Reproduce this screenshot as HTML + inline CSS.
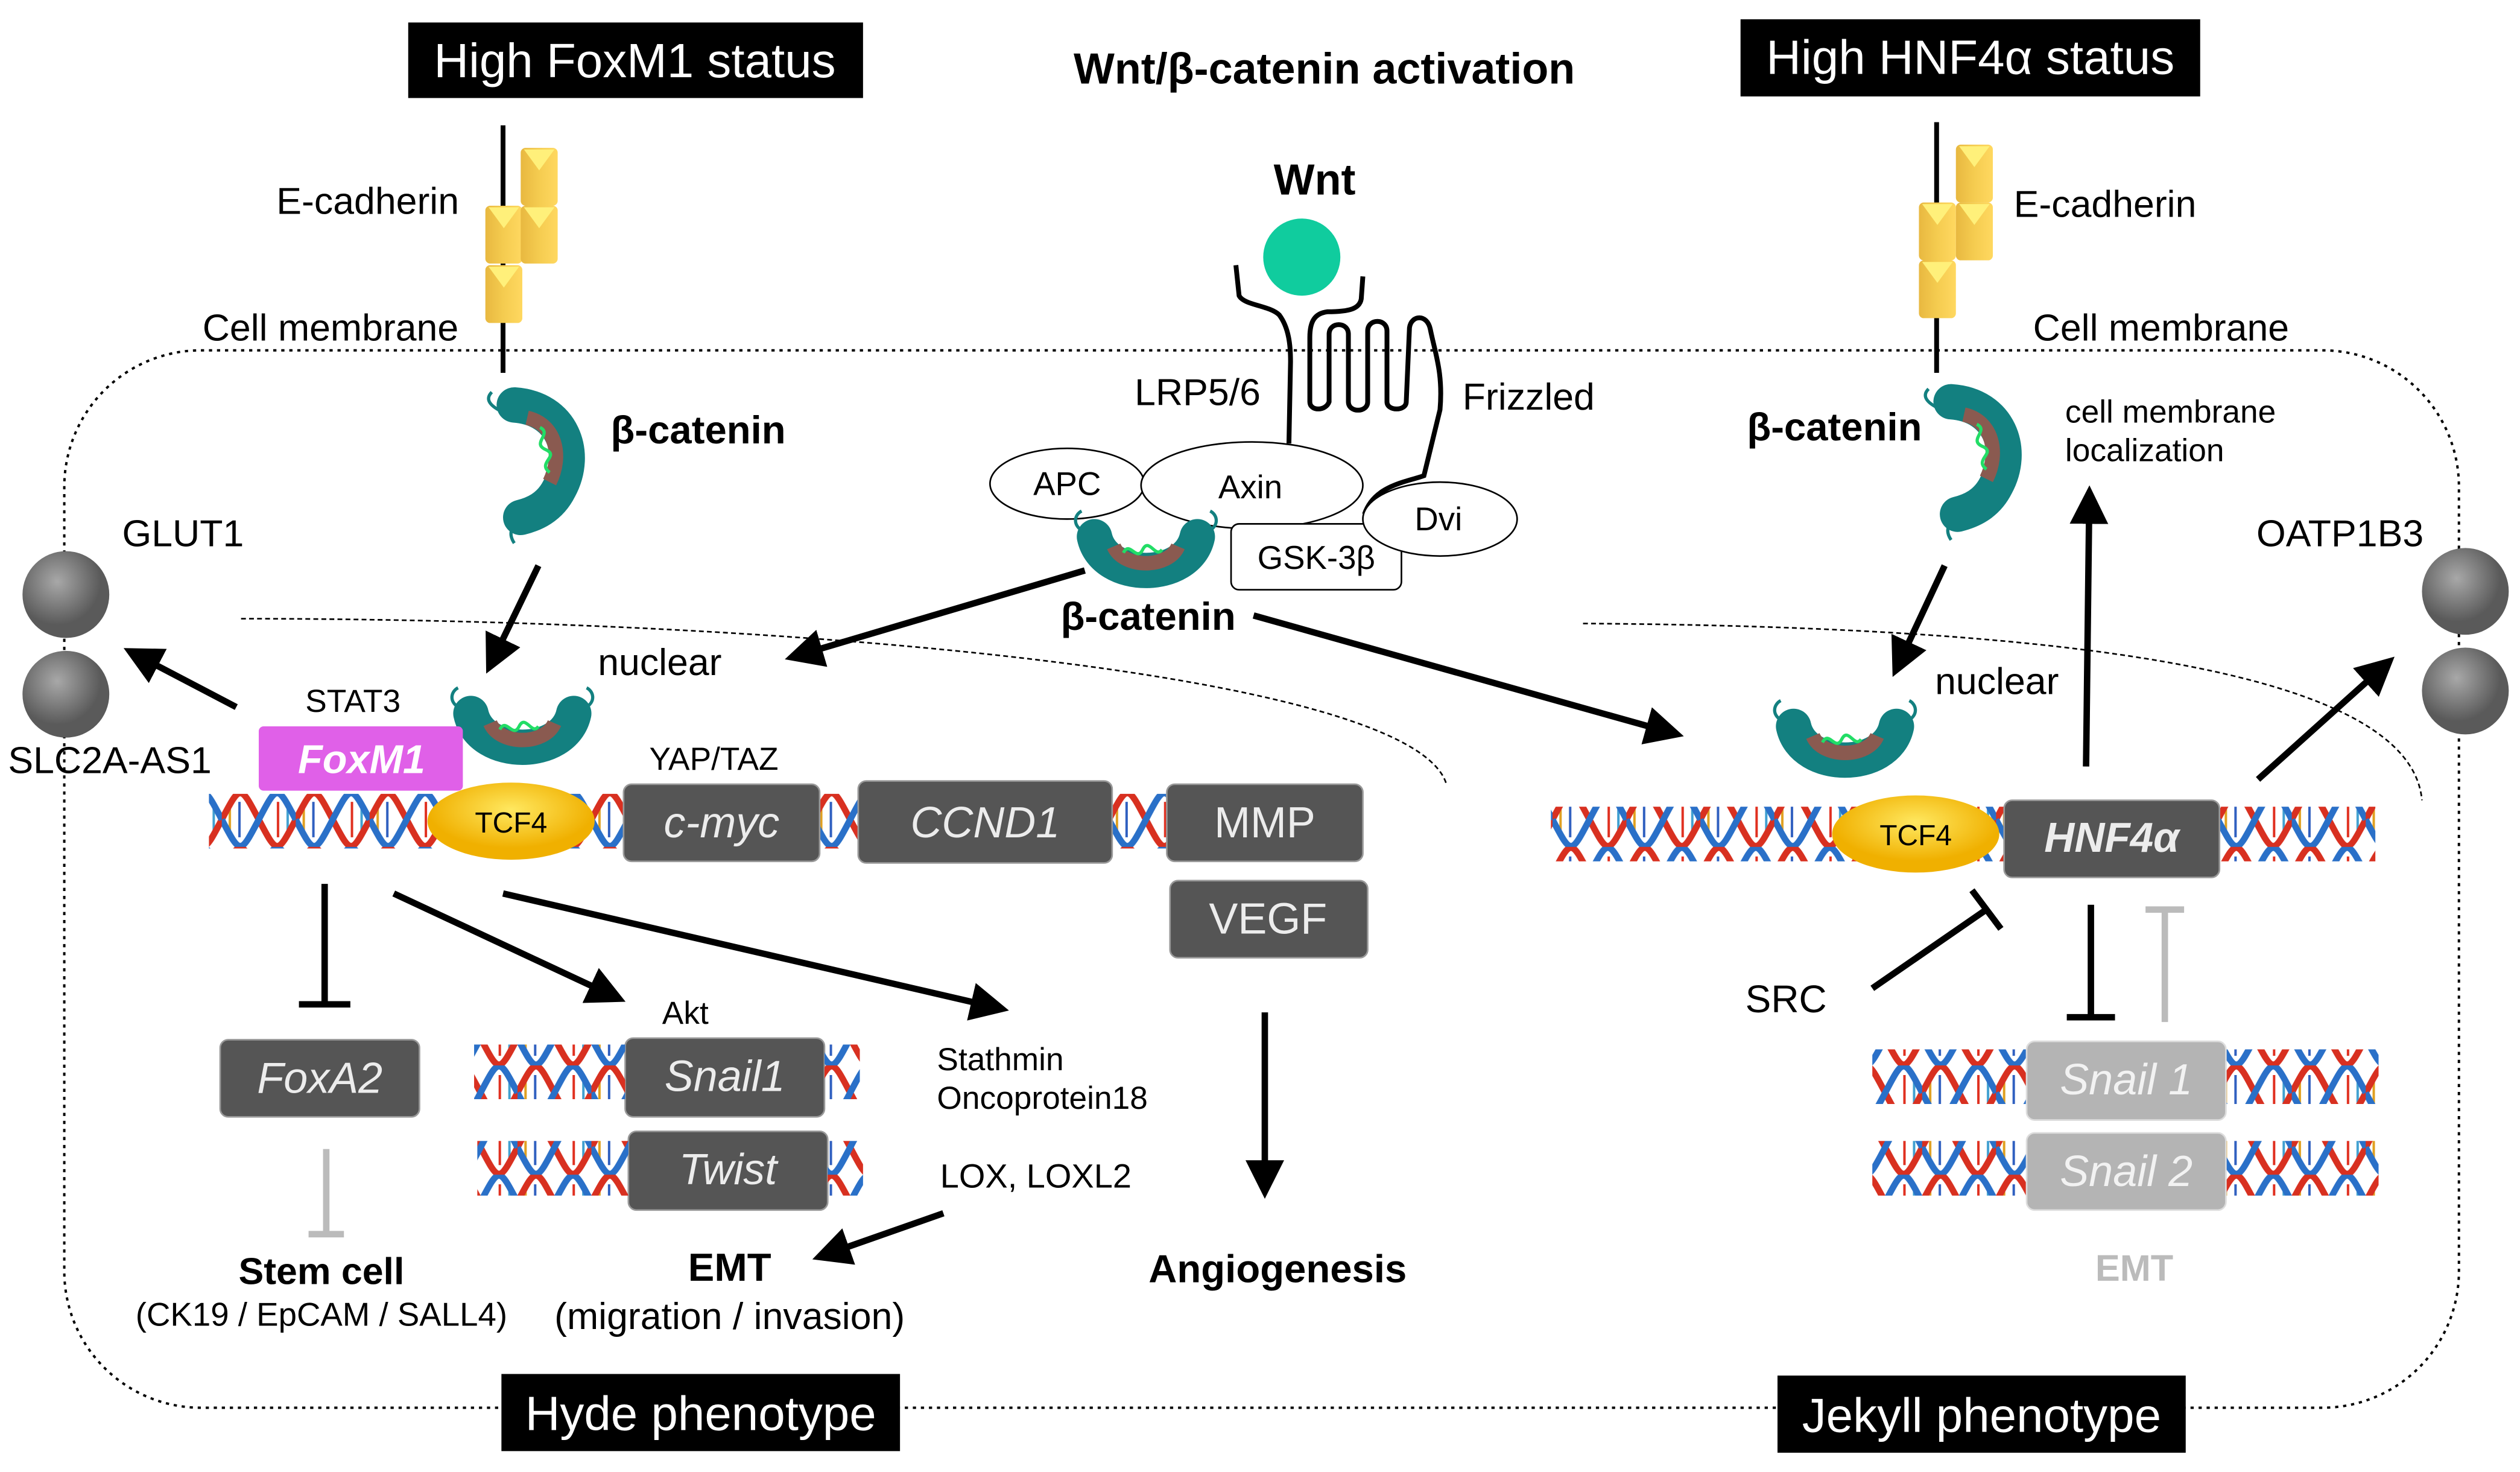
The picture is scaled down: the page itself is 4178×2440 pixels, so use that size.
<!DOCTYPE html>
<html><head><meta charset="utf-8"><style>
html,body{margin:0;padding:0;background:#fff;}
svg{display:block;}
text{font-family:"Liberation Sans",sans-serif;}
</style></head><body>
<svg width="4178" height="2440" viewBox="0 0 1568 916" preserveAspectRatio="none" xmlns="http://www.w3.org/2000/svg">
<defs>
<marker id="ah" markerWidth="6" markerHeight="6" refX="4" refY="3" orient="auto" markerUnits="strokeWidth">
<path d="M0,0 L6,3 L0,6 z" fill="#000"/></marker>
<pattern id="dna" width="46" height="34" patternUnits="userSpaceOnUse" y="-17">
<g stroke-width="1.5">
<line x1="5" y1="9" x2="5" y2="25" stroke="#e0a020"/><line x1="11" y1="6" x2="11" y2="28" stroke="#3060c0"/><line x1="35" y1="6" x2="35" y2="28" stroke="#e03020"/><line x1="41" y1="9" x2="41" y2="25" stroke="#40a0d0"/>
</g>
<path d="M0,17 C11.5,-5 11.5,-5 23,17 S34.5,39 46,17" fill="none" stroke="#d83020" stroke-width="4"/>
<path d="M0,17 C11.5,39 11.5,39 23,17 S34.5,-5 46,17" fill="none" stroke="#2a70c8" stroke-width="4"/>
</pattern>
<g id="bcat">
<path d="M-22,-30 C8,-28 18,0 6,22 C0,34 -10,38 -18,40" fill="none" stroke="#138080" stroke-width="22" stroke-linecap="round"/>
<path d="M-14,-22 C4,-18 8,2 0,18" fill="none" stroke="#8a5a50" stroke-width="9"/>
<path d="M-6,-16 c8,4 -6,10 4,14 c8,4 -6,8 2,14" fill="none" stroke="#22dd66" stroke-width="2"/>
<path d="M-30,-26 c-8,-4 -10,-8 -6,-12" fill="none" stroke="#138080" stroke-width="2"/>
<path d="M-18,40 c-6,6 -8,10 -4,16" fill="none" stroke="#138080" stroke-width="2"/>
</g>
<g id="bcath">
<path d="M-32,-6 C-26,22 26,22 32,-6" fill="none" stroke="#138080" stroke-width="22" stroke-linecap="round"/>
<path d="M-20,0 C-14,14 14,14 20,0" fill="none" stroke="#8a5a50" stroke-width="9"/>
<path d="M-14,4 c4,-8 8,6 12,-2 c4,-8 8,6 12,0" fill="none" stroke="#22dd66" stroke-width="2"/>
<path d="M-40,-10 c-6,-4 -4,-10 0,-12" fill="none" stroke="#138080" stroke-width="2"/>
<path d="M40,-10 c6,-4 4,-10 0,-12" fill="none" stroke="#138080" stroke-width="2"/>
</g>
<linearGradient id="cube" x1="0" x2="1"><stop offset="0" stop-color="#e8b840"/><stop offset="0.5" stop-color="#f5cc50"/><stop offset="1" stop-color="#ffd860"/></linearGradient>
<g id="cb"><rect x="0" y="0" width="23" height="36" rx="3" fill="url(#cube)"/><path d="M2,1 L11.5,14 L21,1 z" fill="#fff07a"/></g>
<radialGradient id="mem" cx="0.4" cy="0.35"><stop offset="0" stop-color="#a8a8a8"/><stop offset="1" stop-color="#5a5a5a"/></radialGradient>
<radialGradient id="tcf" cx="0.5" cy="0.35"><stop offset="0" stop-color="#ffe860"/><stop offset="1" stop-color="#f0b000"/></radialGradient>
</defs>

<rect x="40" y="218" width="1490" height="658" rx="85" fill="none" stroke="#000" stroke-width="1.5" stroke-dasharray="2,3"/>
<path d="M150,385 C500,385 880,420 900,488" fill="none" stroke="#000" stroke-width="1" stroke-dasharray="3,2"/>
<path d="M985,388 C1300,390 1500,420 1507,498" fill="none" stroke="#000" stroke-width="1" stroke-dasharray="3,2"/>

<rect x="254" y="14" width="283" height="47" fill="#000"/><text x="395" y="48" fill="#fff" font-size="30" text-anchor="middle">High FoxM1  status</text>
<rect x="1083" y="12" width="286" height="48" fill="#000"/><text x="1226" y="46" fill="#fff" font-size="30" text-anchor="middle">High HNF4α status</text>
<rect x="312" y="855" width="248" height="48" fill="#000"/><text x="436" y="890" fill="#fff" font-size="30" text-anchor="middle">Hyde phenotype</text>
<rect x="1106" y="856" width="254" height="48" fill="#000"/><text x="1233" y="891" fill="#fff" font-size="30" text-anchor="middle">Jekyll phenotype</text>
<text x="824" y="52" font-size="27" font-weight="bold" text-anchor="middle">Wnt/β-catenin activation</text>

<line x1="313" y1="78" x2="313" y2="232" stroke="#000" stroke-width="3"/>
<use href="#cb" x="324" y="92"/><use href="#cb" x="302" y="128"/><use href="#cb" x="324" y="128"/><use href="#cb" x="302" y="165"/>
<text x="172" y="133" font-size="23.5">E-cadherin</text>
<text x="126" y="212" font-size="23.5">Cell membrane</text>
<line x1="1205" y1="76" x2="1205" y2="232" stroke="#000" stroke-width="3"/>
<use href="#cb" x="1217" y="90"/><use href="#cb" x="1194" y="126"/><use href="#cb" x="1217" y="126"/><use href="#cb" x="1194" y="162"/>
<text x="1253" y="135" font-size="23.5">E-cadherin</text>
<text x="1265" y="212" font-size="23.5">Cell membrane</text>

<use href="#bcat" x="342" y="282"/>
<text x="380" y="276" font-size="24.5" font-weight="bold">β-catenin</text>
<use href="#bcat" x="1236" y="280"/>
<text x="1087" y="274" font-size="24.5" font-weight="bold">β-catenin</text>
<text x="1285" y="263" font-size="20">cell membrane</text>
<text x="1285" y="287" font-size="20">localization</text>

<circle cx="41" cy="370" r="27" fill="url(#mem)"/><circle cx="41" cy="432" r="27" fill="url(#mem)"/>
<circle cx="1534" cy="368" r="27" fill="url(#mem)"/><circle cx="1534" cy="430" r="27" fill="url(#mem)"/>
<text x="76" y="340" font-size="23.5">GLUT1</text>
<text x="5" y="481" font-size="23.5">SLC2A-AS1</text>
<text x="1404" y="340" font-size="23.5">OATP1B3</text>

<text x="818" y="121" font-size="27" font-weight="bold" text-anchor="middle">Wnt</text>
<circle cx="810" cy="160" r="24" fill="#10cc9e"/>
<path d="M769,165 L771,184 C774,190 790,190 796,196 C802,204 803,215 803,225 L802,276" fill="none" stroke="#000" stroke-width="3"/>
<path d="M848,172 L847,186 C846,192 840,194 826,194 C818,195 815,200 815,210 L815,250 C815,256 825,256 827,250 L827,208 C827,200 839,200 839,208 L839,250 C839,257 851,257 851,250 L851,206 C851,198 863,198 863,206 L863,250 C863,256 875,256 875,250 L877,204 C878,196 888,195 890,205 C893,220 898,232 896,255 L886,296 C875,300 855,302 849,320" fill="none" stroke="#000" stroke-width="3"/>
<text x="706" y="252" font-size="23.5">LRP5/6</text>
<text x="910" y="255" font-size="23.5">Frizzled</text>
<ellipse cx="664" cy="301" rx="48" ry="22" fill="#fff" stroke="#000" stroke-width="1"/>
<text x="664" y="308" font-size="20.5" text-anchor="middle">APC</text>
<ellipse cx="779" cy="302" rx="69" ry="27" fill="#fff" stroke="#000" stroke-width="1"/>
<text x="778" y="310" font-size="20.5" text-anchor="middle">Axin</text>
<rect x="766" y="326" width="106" height="41" rx="5" fill="#fff" stroke="#000" stroke-width="1"/>
<text x="819" y="354" font-size="20.5" text-anchor="middle">GSK-3β</text>
<ellipse cx="896" cy="323" rx="48" ry="23" fill="#fff" stroke="#000" stroke-width="1"/>
<text x="895" y="330" font-size="20.5" text-anchor="middle">Dvi</text>
<use href="#bcath" x="713" y="340"/>
<text x="660" y="392" font-size="24.5" font-weight="bold">β-catenin</text>

<text x="372" y="420" font-size="23.5">nuclear</text>
<use href="#bcath" x="325" y="450"/>
<rect x="130" y="494" width="600" height="34" fill="url(#dna)"/>
<rect x="161" y="452" width="127" height="40" rx="3" fill="#e060e8"/>
<text x="225" y="481" font-size="25" font-style="italic" font-weight="bold" fill="#fff" text-anchor="middle">FoxM1</text>
<text x="190" y="443" font-size="20">STAT3</text>
<text x="404" y="479" font-size="20">YAP/TAZ</text>
<ellipse cx="318" cy="511" rx="52" ry="24" fill="url(#tcf)"/>
<text x="318" y="518" font-size="18" text-anchor="middle">TCF4</text>

<g font-size="27" font-style="italic" fill="#ececec" text-anchor="middle">
<rect x="388" y="488" width="122" height="48" rx="5" fill="#555" stroke="#999"/><text x="449" y="521">c-myc</text>
<rect x="534" y="486" width="158" height="51" rx="5" fill="#555" stroke="#999"/><text x="613" y="521">CCND1</text>
<rect x="137" y="647" width="124" height="48" rx="5" fill="#555" stroke="#999"/><text x="199" y="680">FoxA2</text>
<rect x="389" y="646" width="124" height="49" rx="5" fill="#555" stroke="#999"/><text x="451" y="679">Snail1</text>
<rect x="391" y="704" width="124" height="49" rx="5" fill="#555" stroke="#999"/><text x="453" y="737">Twist</text>
</g>
<g font-size="27" fill="#ececec" text-anchor="middle">
<rect x="726" y="488" width="122" height="48" rx="5" fill="#555" stroke="#999"/><text x="787" y="521">MMP</text>
<rect x="728" y="548" width="123" height="48" rx="5" fill="#555" stroke="#999"/><text x="789" y="581">VEGF</text>
</g>
<rect x="295" y="650" width="94" height="34" fill="url(#dna)"/><rect x="513" y="650" width="22" height="34" fill="url(#dna)"/>
<rect x="297" y="710" width="94" height="34" fill="url(#dna)"/><rect x="515" y="710" width="22" height="34" fill="url(#dna)"/>

<text x="412" y="637" font-size="20">Akt</text>
<text x="583" y="666" font-size="20">Stathmin</text>
<text x="583" y="690" font-size="20">Oncoprotein18</text>
<text x="585" y="739" font-size="21">LOX, LOXL2</text>
<text x="454" y="797" font-size="24.5" font-weight="bold" text-anchor="middle">EMT</text>
<text x="454" y="827" font-size="23.5" text-anchor="middle">(migration / invasion)</text>
<text x="200" y="799" font-size="23.5" font-weight="bold" text-anchor="middle">Stem cell</text>
<text x="200" y="825" font-size="20.5" text-anchor="middle">(CK19 / EpCAM / SALL4)</text>
<text x="795" y="798" font-size="24.5" font-weight="bold" text-anchor="middle">Angiogenesis</text>

<text x="1204" y="432" font-size="23.5">nuclear</text>
<use href="#bcath" x="1148" y="458"/>
<rect x="965" y="502" width="513" height="34" fill="url(#dna)"/>
<ellipse cx="1192" cy="519" rx="52" ry="24" fill="url(#tcf)"/>
<text x="1192" y="526" font-size="18" text-anchor="middle">TCF4</text>
<rect x="1247" y="498" width="134" height="48" rx="5" fill="#555" stroke="#999"/>
<text x="1314" y="530" font-size="26" font-style="italic" font-weight="bold" fill="#ececec" text-anchor="middle">HNF4α</text>
<rect x="1165" y="653" width="315" height="34" fill="url(#dna)"/>
<rect x="1165" y="710" width="315" height="34" fill="url(#dna)"/>
<g font-size="27" font-style="italic" fill="#f2f2f2" text-anchor="middle">
<rect x="1261" y="648" width="124" height="49" rx="5" fill="#b4b4b4" stroke="#ddd"/><text x="1323" y="681">Snail 1</text>
<rect x="1261" y="705" width="124" height="48" rx="5" fill="#b4b4b4" stroke="#ddd"/><text x="1323" y="738">Snail 2</text>
</g>
<text x="1086" y="630" font-size="24">SRC</text>
<text x="1328" y="797" font-size="23" font-weight="bold" fill="#bbb" text-anchor="middle">EMT</text>

<g stroke="#000" stroke-width="4" fill="none" marker-end="url(#ah)">
<line x1="335" y1="352" x2="306" y2="412"/>
<line x1="147" y1="440" x2="84" y2="407"/>
<line x1="675" y1="355" x2="496" y2="408"/>
<line x1="780" y1="383" x2="1040" y2="456"/>
<line x1="1210" y1="352" x2="1181" y2="414"/>
<line x1="1298" y1="477" x2="1300" y2="310"/>
<line x1="1405" y1="485" x2="1484" y2="414"/>
<line x1="245" y1="556" x2="382" y2="620"/>
<line x1="313" y1="556" x2="620" y2="627"/>
<line x1="587" y1="755" x2="513" y2="781"/>
<line x1="787" y1="630" x2="787" y2="738"/>
</g>
<g stroke="#000" stroke-width="4" fill="none">
<line x1="202" y1="550" x2="202" y2="625"/><line x1="186" y1="625" x2="218" y2="625"/>
<line x1="1165" y1="615" x2="1236" y2="566"/><line x1="1227" y1="554" x2="1245" y2="578"/>
<line x1="1301" y1="563" x2="1301" y2="633"/><line x1="1286" y1="633" x2="1316" y2="633"/>
</g>
<g stroke="#bbb" stroke-width="4" fill="none">
<line x1="203" y1="715" x2="203" y2="768"/><line x1="192" y1="768" x2="214" y2="768"/>
<line x1="1347" y1="636" x2="1347" y2="566"/><line x1="1335" y1="566" x2="1359" y2="566"/>
</g>
</svg>
</body></html>
